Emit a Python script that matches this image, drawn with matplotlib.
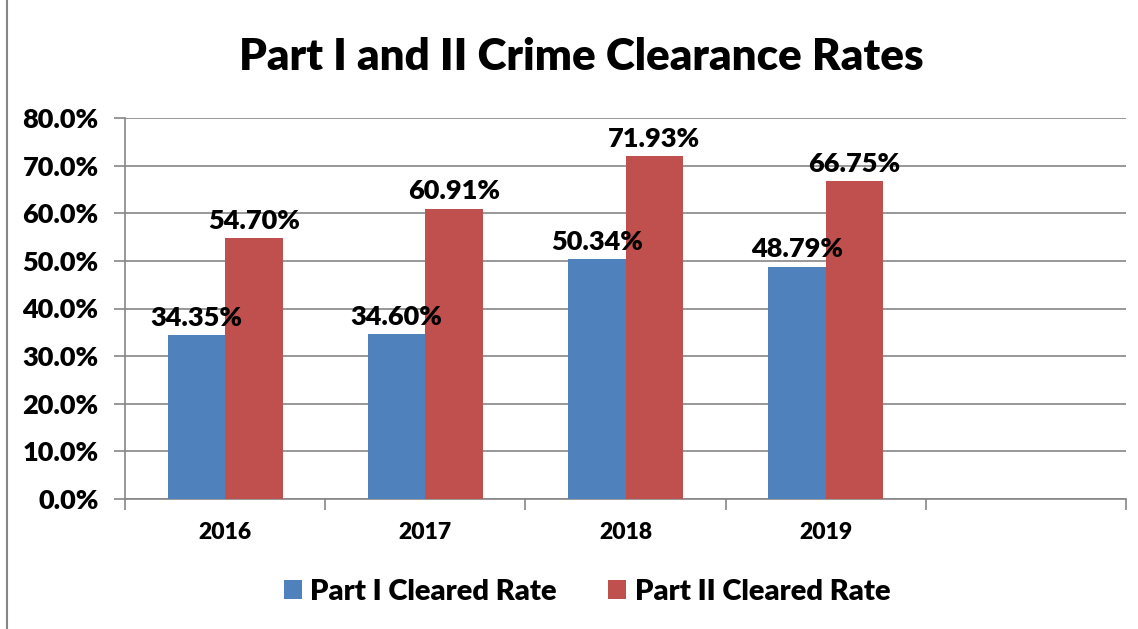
import matplotlib.pyplot as plt
import numpy as np

# chart data
years = ['2016', '2017', '2018', '2019']
part1_rate = [34.35, 34.60, 50.34, 48.79]
part2_rate = [54.70, 60.91, 71.93, 66.75]
y_ticks = [0, 10, 20, 30, 40, 50, 60, 70, 80]

blue = '#4f81bd'
red = '#c0504d'
grey = '#868686'

plt.rcParams['font.family'] = ['Lato', 'DejaVu Sans']
plt.rcParams['font.weight'] = 'heavy'

fig = plt.figure(figsize=(11.38, 6.29), dpi=100)
ax = fig.add_axes([125 / 1138, 1 - 499 / 629, (1126 - 125) / 1138, (499 - 118) / 629])

# five category slots, last one empty
x = np.arange(len(years))
width = 0.2875
b1 = ax.bar(x - width / 2, part1_rate, width, color=blue, label='Part I Cleared Rate', zorder=3)
b2 = ax.bar(x + width / 2, part2_rate, width, color=red, label='Part II Cleared Rate', zorder=3)

for bars in (b1, b2):
    for rect in bars:
        v = rect.get_height()
        ax.annotate(f'{v:.2f}%', (rect.get_x() + rect.get_width() / 2, v),
                    xytext=(0, 4), textcoords='offset points',
                    ha='center', va='bottom', fontsize=19.5, fontweight='heavy', zorder=4)

ax.set_xlim(-0.5, 4.5)
ax.set_ylim(0, 80)
ax.set_yticks(y_ticks)
ax.set_yticklabels([f'{t:.1f}%' for t in y_ticks], fontsize=19.5, fontweight='heavy')
ax.yaxis.grid(True, color=grey, linewidth=1.2, zorder=0)

# category boundaries as ticks, year labels centred in slots
ax.set_xticks(np.arange(-0.5, 5.0, 1.0))
ax.set_xticklabels([])
ax.tick_params(axis='x', length=8, color=grey, width=1.2)
ax.tick_params(axis='y', length=8, color=grey, width=1.2, pad=11)
for i, yr in enumerate(years):
    ax.text(i, -7.0, yr, ha='center', va='center', fontsize=16.5, fontweight='heavy')

for s in ('top', 'right'):
    ax.spines[s].set_visible(False)
ax.spines['left'].set_color(grey)
ax.spines['bottom'].set_color(grey)
ax.spines['left'].set_linewidth(1.2)
ax.spines['bottom'].set_linewidth(1.2)

fig.text(581 / 1138, 1 - 57 / 629, 'Part I and II Crime Clearance Rates',
         ha='center', va='center', fontsize=31.6, fontweight='heavy')

fig.legend(handles=[b1, b2], loc='center', bbox_to_anchor=(587 / 1138, 1 - 592 / 629),
           ncol=2, frameon=False, fontsize=21, handlelength=0.62, handleheight=0.62,
           handletextpad=0.3, columnspacing=1.75)

# chart border
fig.patches.append(plt.Rectangle((7 / 1138, -0.01), 1.02, 1.02, transform=fig.transFigure,
                                 fill=False, edgecolor=grey, linewidth=1.5))

fig.savefig('out.png', dpi=100)
